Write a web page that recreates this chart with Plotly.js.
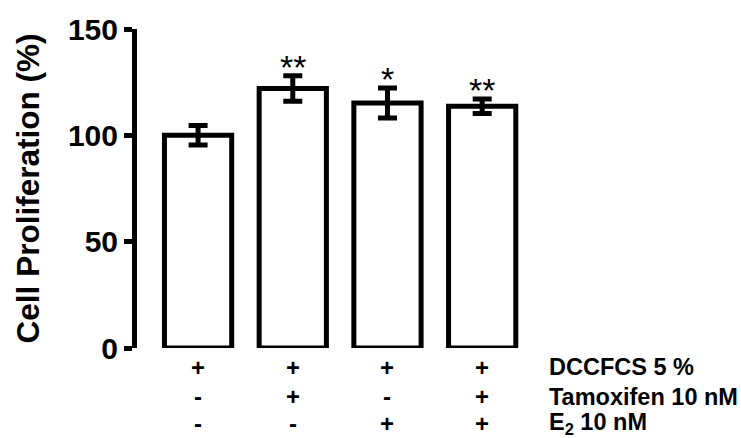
<!DOCTYPE html>
<html>
<head>
<meta charset="utf-8">
<script src="https://cdn.plot.ly/plotly-3.0.1.min.js"></script>
<style>html,body{margin:0;padding:0;background:#fff;}#chart{width:741px;height:438px;}</style>
</head>
<body>
<div id="chart"></div>
<script>
// Data
var groups = [0, 1, 2, 3];
var proliferation = [100, 122, 115.2, 113.7];
var errors = [4.6, 6, 7, 3.4];
var significance = ["", "**", "*", "**"];
var rowLabels = ["DCCFCS 5 %", "Tamoxifen 10 nM", "E<sub>2</sub> 10 nM"];
var rowSigns = [
  ["+", "+", "+", "+"],
  ["-", "+", "-", "+"],
  ["-", "-", "+", "+"]
];
var yTicks = [0, 50, 100, 150];

var FONT = "Liberation Sans, Arial, Helvetica, sans-serif";

var trace = {
  type: "bar",
  x: groups,
  y: proliferation,
  width: 0.71,
  marker: {color: "#ffffff", line: {color: "#000000", width: 5}},
  error_y: {type: "data", array: errors, visible: true, color: "#000000", thickness: 5, width: 9.5},
  hoverinfo: "none"
};

var annotations = [];
// significance stars
for (var i = 0; i < groups.length; i++) {
  if (significance[i]) {
    annotations.push({
      x: groups[i], y: proliferation[i] + errors[i], xref: "x", yref: "y",
      text: significance[i], showarrow: false, yanchor: "bottom", yshift: -12,
      font: {family: FONT, size: 34, color: "#000"}
    });
  }
}
// treatment rows
var rowY = [-0.0596, -0.1536, -0.2366];
for (var r = 0; r < rowSigns.length; r++) {
  for (var j = 0; j < groups.length; j++) {
    annotations.push({
      x: groups[j], y: rowY[r], xref: "x", yref: "paper",
      text: "<b>" + rowSigns[r][j] + "</b>", showarrow: false, yanchor: "middle",
      font: {family: FONT, size: 24, color: "#000"}
    });
  }
  annotations.push({
    x: 1.015, y: rowY[r], xref: "paper", yref: "paper",
    text: "<b>" + rowLabels[r] + "</b>", showarrow: false, xanchor: "left", yanchor: "middle",
    font: {family: FONT, size: 23.5, color: "#000"}
  });
}

var layout = {
  width: 741, height: 438,
  margin: {l: 137, r: 200, t: 29, b: 90},
  paper_bgcolor: "#fff", plot_bgcolor: "#fff",
  showlegend: false,
  font: {family: FONT, color: "#000"},
  xaxis: {
    type: "linear", range: [-0.645, -0.645 + 404 / 94.7],
    showline: false, showticklabels: false, ticks: "", showgrid: false, zeroline: false, fixedrange: true
  },
  yaxis: {
    range: [0, 150], tickvals: yTicks, ticktext: yTicks.map(String),
    showline: true, linecolor: "#000", linewidth: 5,
    ticks: "outside", ticklen: 8, tickwidth: 5, tickcolor: "#000",
    showgrid: false, zeroline: false,
    tickfont: {family: FONT, size: 30, color: "#000", weight: "bold"},
    title: {text: "<b>Cell Proliferation (%)</b>", font: {family: FONT, size: 31.5, color: "#000"}, standoff: 20},
    automargin: false, fixedrange: true
  },
  annotations: annotations
};

Plotly.newPlot("chart", [trace], layout, {displayModeBar: false, staticPlot: true});
</script>
</body>
</html>
